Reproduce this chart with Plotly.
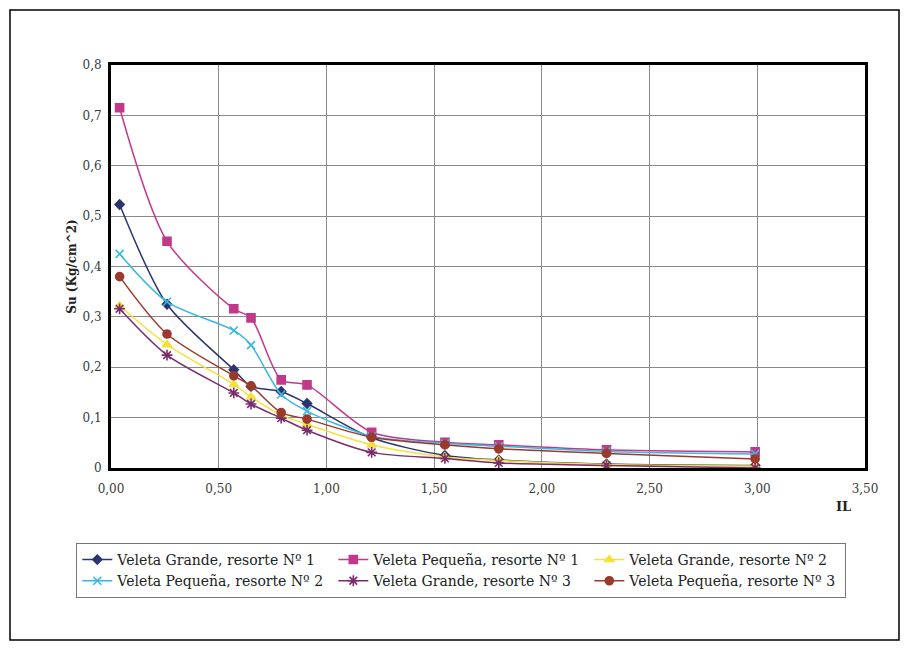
import plotly.graph_objects as go

# ---- data ----
il = [0.04, 0.26, 0.57, 0.65, 0.79, 0.91, 1.21, 1.55, 1.80, 2.30, 2.99]

vg1 = [0.523, 0.325, 0.195, 0.162, 0.152, 0.128, 0.060, 0.025, 0.016, 0.008, 0.005]
vp1 = [0.715, 0.450, 0.316, 0.298, 0.175, 0.165, 0.071, 0.051, 0.046, 0.036, 0.032]
vg2 = [0.322, 0.245, 0.166, 0.141, 0.105, 0.087, 0.046, 0.022, 0.015, 0.007, 0.004]
vp2 = [0.425, 0.330, 0.273, 0.244, 0.146, 0.113, 0.063, 0.049, 0.043, 0.033, 0.028]
vg3 = [0.316, 0.224, 0.149, 0.127, 0.099, 0.075, 0.031, 0.019, 0.010, 0.005, 0.000]
vp3 = [0.380, 0.266, 0.183, 0.163, 0.110, 0.097, 0.061, 0.046, 0.038, 0.029, 0.018]

series_names = [
    "Veleta Grande, resorte Nº 1",
    "Veleta Pequeña, resorte Nº 1",
    "Veleta Grande, resorte Nº 2",
    "Veleta Pequeña, resorte Nº 2",
    "Veleta Grande, resorte Nº 3",
    "Veleta Pequeña, resorte Nº 3",
]
series_values = [vg1, vp1, vg2, vp2, vg3, vp3]

x_tickvals = [0, 0.5, 1.0, 1.5, 2.0, 2.5, 3.0, 3.5]
x_ticktext = ["0,00", "0,50", "1,00", "1,50", "2,00", "2,50", "3,00", "3,50"]
y_tickvals = [0, 0.1, 0.2, 0.3, 0.4, 0.5, 0.6, 0.7, 0.8]
y_ticktext = ["0", "0,1", "0,2", "0,3", "0,4", "0,5", "0,6", "0,7", "0,8"]

# ---- styles ----
colors = ["#2b3470", "#c4388a", "#f3e23c", "#3bb8dd", "#7a2c6c", "#9b3a2c"]
symbols = ["diamond", "square", "triangle-up", "x-thin-open", "asterisk-open", "circle"]
sizes = [7, 8, 8, 8, 9, 8]

SERIF = "DejaVu Serif"

fig = go.Figure()
for name, vals, c, s, sz in zip(series_names, series_values, colors, symbols, sizes):
    fig.add_trace(go.Scatter(
        x=il, y=vals, name=name, mode="lines+markers",
        line=dict(color=c, width=1.5, shape="spline", smoothing=0.8),
        marker=dict(symbol=s, size=sz, color=c, line=dict(color=c, width=1.6)),
    ))

fig.update_layout(
    width=910, height=650,
    margin=dict(l=111, r=45, t=65, b=182),
    paper_bgcolor="white", plot_bgcolor="white",
    font=dict(family=SERIF, color="#333333"),
    showlegend=True,
    legend=dict(
        orientation="h", x=-0.046, y=-0.186, xanchor="left", yanchor="top",
        font=dict(family=SERIF, size=14, color="#222222"),
        bordercolor="#777777", borderwidth=1, bgcolor="white",
        entrywidth=211, entrywidthmode="pixels", itemwidth=30,
        tracegroupgap=0,
    ),
    xaxis=dict(
        range=[0, 3.5], tickvals=x_tickvals, ticktext=x_ticktext,
        showgrid=True, gridcolor="#8a8a8a", gridwidth=1,
        showline=True, linecolor="black", linewidth=3, mirror=True,
        ticks="", ticklabelstandoff=8, zeroline=False,
        tickfont=dict(family=SERIF, size=12, color="#3a3a3a"),
    ),
    yaxis=dict(
        range=[0, 0.8], tickvals=y_tickvals, ticktext=y_ticktext,
        showgrid=True, gridcolor="#8a8a8a", gridwidth=1,
        showline=True, linecolor="black", linewidth=3, mirror=True,
        ticks="", ticklabelstandoff=4, zeroline=False,
        tickfont=dict(family=SERIF, size=12, color="#3a3a3a"),
        title=dict(text="<b>Su (Kg/cm^2)</b>", standoff=4,
                   font=dict(family=SERIF, size=12, color="#222222")),
    ),
    annotations=[dict(
        text="<b>IL</b>", xref="paper", yref="paper",
        x=(843 - 111) / 754, y=(468 - 506) / 403,
        xanchor="center", yanchor="middle", showarrow=False,
        font=dict(family=SERIF, size=13, color="#222222"),
    )],
    shapes=[dict(
        type="rect", xref="paper", yref="paper",
        x0=(10 - 111) / 754, x1=(899 - 111) / 754,
        y0=(468 - 640) / 403, y1=(468 - 10) / 403,
        line=dict(color="black", width=1.5), fillcolor="rgba(0,0,0,0)",
    )],
)

fig.write_html("out.html")
